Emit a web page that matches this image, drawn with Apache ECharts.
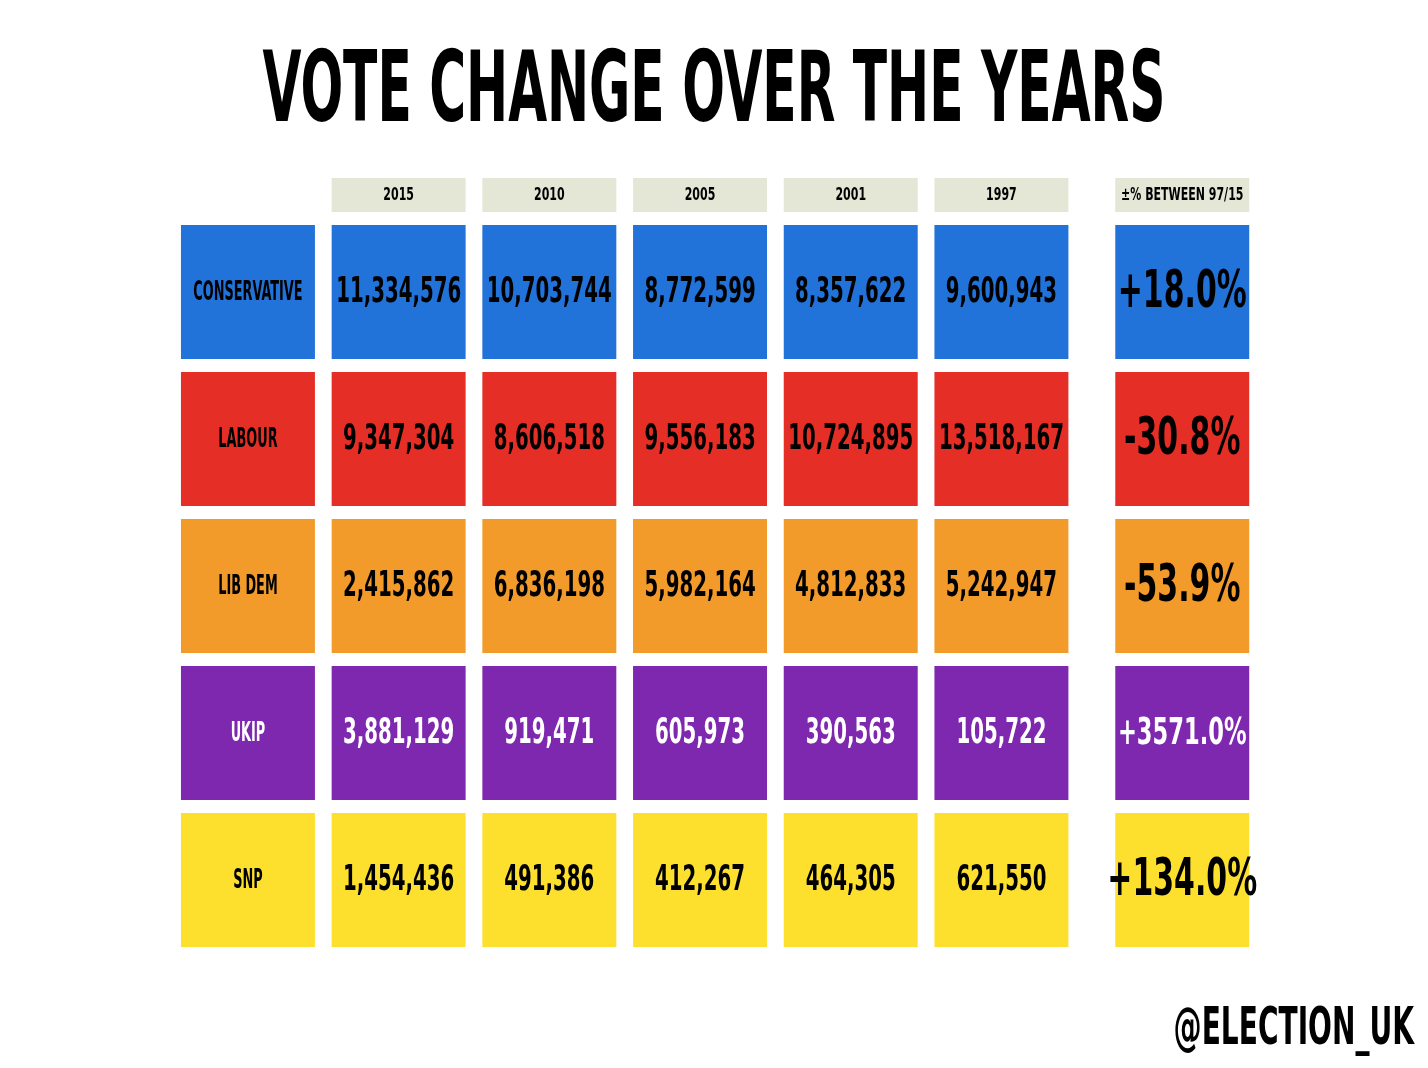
<!DOCTYPE html>
<html><head><meta charset="utf-8">
<script src="https://cdn.jsdelivr.net/npm/echarts@6/dist/echarts.min.js"></script>
<style>html,body{margin:0;padding:0;background:#fff}#c{width:1428px;height:1068px}</style>
</head><body><div id="c"></div>
<script>
const years = ["2015","2010","2005","2001","1997"];
const parties = ["CONSERVATIVE","LABOUR","LIB DEM","UKIP","SNP"];
const conservative = [11334576,10703744,8772599,8357622,9600943];
const labour = [9347304,8606518,9556183,10724895,13518167];
const libdem = [2415862,6836198,5982164,4812833,5242947];
const ukip = [3881129,919471,605973,390563,105722];
const snp = [1454436,491386,412267,464305,621550];
const pctChange = ["+18.0%","-30.8%","-53.9%","+3571.0%","+134.0%"];
const pctHeader = "±% BETWEEN 97/15";
const colors = ["#2172D9","#E52E25","#F29A2A","#7E27AF","#FDE02E"];
const textColors = ["#000","#000","#000","#fff","#000"];
const values = [conservative, labour, libdem, ukip, snp];
const FONT = "'DejaVu Sans Condensed',sans-serif";
const PCT_X = 6.2, HEAD_Y = -0.66;

const cells = [];
parties.forEach((p,r)=>{
  cells.push({value:[0,r,p,r,'party']});
  values[r].forEach((v,c)=>cells.push({value:[c+1,r,v.toLocaleString('en-US'),r,'num']}));
  cells.push({value:[PCT_X,r,pctChange[r],r,'pct']});
});
years.forEach((y,c)=>cells.push({value:[c+1,HEAD_Y,y,-1,'head']}));
cells.push({value:[PCT_X,HEAD_Y,pctHeader,-1,'head']});

function renderItem(params, api){
  const x=api.value(0), y=api.value(1), label=api.value(2), r=api.value(3), kind=api.value(4);
  const pt=api.coord([x,y]); const sz=api.size([1,1]);
  const w=sz[0]*0.889, h = kind==='head' ? 34 : sz[1]*0.912;
  const fill = r<0 ? '#E4E6D6' : colors[r];
  const tc = r<0 ? '#000' : textColors[r];
  let fs, sc;
  if(kind==='party'){fs=26;sc=0.55;}
  else if(kind==='num'){fs=36;sc=0.61;}
  else if(kind==='pct'){ if(label.length>7){fs=38;sc=0.66;} else {fs=52;sc=0.64;} }
  else {fs=17;sc=0.72;}
  return {type:'group',children:[
    {type:'rect',shape:{x:pt[0]-w/2,y:pt[1]-h/2,width:w,height:h},style:{fill:fill}},
    {type:'text',x:pt[0],y:pt[1]+1,scaleX:sc,style:{text:label,fill:tc,font:'bold '+fs+'px '+FONT,align:'center',verticalAlign:'middle'}}
  ]};
}

const chart=echarts.init(document.getElementById('c'));
chart.setOption({
  animation:false,
  graphic:[
    {type:'text',x:714,y:96,scaleX:0.57,style:{text:'VOTE CHANGE OVER THE YEARS',font:'bold 98px '+FONT,fill:'#000',align:'center',verticalAlign:'middle'}},
    {type:'text',x:1414,y:1030,scaleX:0.6,style:{text:'@ELECTION_UK',font:'bold 52px '+FONT,fill:'#000',align:'right',verticalAlign:'middle'}}
  ],
  grid:{left:172.6,width:1085,top:145,height:808.5},
  xAxis:{type:'value',min:-0.5,max:6.7,show:false},
  yAxis:{type:'value',min:-1,max:4.5,inverse:true,show:false},
  series:[{type:'custom',renderItem:renderItem,data:cells,encode:{x:0,y:1}}]
});
</script></body></html>
